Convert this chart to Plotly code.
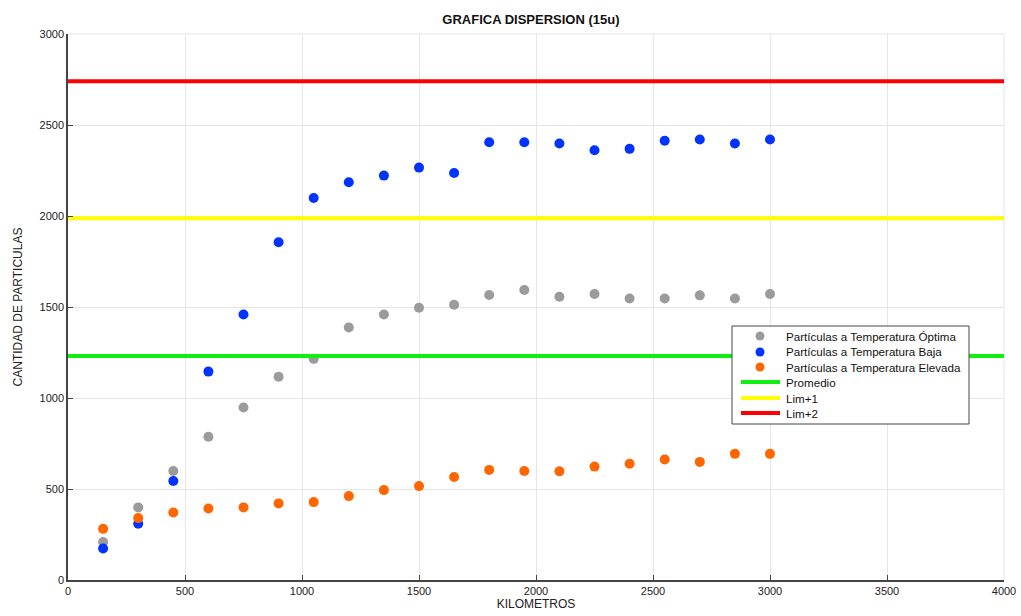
import plotly.graph_objects as go

# Distances (km) where particle counts were sampled
kilometros = [150, 300, 450, 600, 750, 900, 1050, 1200, 1350, 1500,
              1650, 1800, 1950, 2100, 2250, 2400, 2550, 2700, 2850, 3000]

# Particle counts per temperature condition
temp_optima = [209, 399, 599, 787, 948, 1117, 1215, 1387, 1459, 1496,
               1512, 1566, 1593, 1556, 1571, 1547, 1547, 1564, 1547, 1571]
temp_baja = [173, 309, 544, 1145, 1459, 1856, 2099, 2185, 2222, 2266,
             2236, 2405, 2405, 2398, 2361, 2369, 2413, 2420, 2398, 2420]
temp_elevada = [281, 340, 371, 393, 399, 421, 428, 461, 494, 516,
                566, 605, 599, 597, 623, 639, 662, 649, 693, 693]

# Reference levels
promedio = 1231
lim1 = 1988
lim2 = 2740

x_range = [0, 4000]
y_range = [0, 3000]

FONT = "Liberation Sans, Arial, sans-serif"

W, H = 1021, 616
ML, MR, MT, MB = 68, 17, 34, 36
PW, PH = W - ML - MR, H - MT - MB


def px_x(px):
    """Pixel column -> paper x fraction."""
    return (px - ML) / PW


def px_y(py):
    """Pixel row -> paper y fraction."""
    return (H - MB - py) / PH


fig = go.Figure()

point_series = [
    ("Partículas a Temperatura Óptima", temp_optima, "#9b9b9b"),
    ("Partículas a Temperatura Baja", temp_baja, "#0033ff"),
    ("Partículas a Temperatura Elevada", temp_elevada, "#ff6600"),
]
for name, vals, color in point_series:
    fig.add_trace(go.Scatter(
        x=kilometros, y=vals, mode="markers", name=name, showlegend=False,
        marker=dict(color=color, size=10, line=dict(width=0)),
    ))

level_series = [
    ("Promedio", promedio, "#11ee11"),
    ("Lim+1", lim1, "#ffff00"),
    ("Lim+2", lim2, "#ff0000"),
]
for name, val, color in level_series:
    fig.add_trace(go.Scatter(
        x=x_range, y=[val, val], mode="lines", name=name, showlegend=False,
        line=dict(color=color, width=4),
    ))

# Compact legend box drawn with shapes and annotations
shapes = []
annotations = []
box_l, box_r, box_t, box_b = 732, 969, 326, 424
shapes.append(dict(type="rect", xref="paper", yref="paper",
                   x0=px_x(box_l), x1=px_x(box_r), y0=px_y(box_b), y1=px_y(box_t),
                   fillcolor="white", line=dict(color="#444444", width=1), layer="above"))
row_y = [336, 352, 367, 382, 398, 413]
entries = [(n, c, "marker") for n, _, c in point_series] + \
          [(n, c, "line") for n, _, c in level_series]
for (name, color, kind), ry in zip(entries, row_y):
    if kind == "marker":
        shapes.append(dict(type="circle", xref="paper", yref="paper",
                           x0=px_x(755.5), x1=px_x(764.5), y0=px_y(ry + 4.5), y1=px_y(ry - 4.5),
                           fillcolor=color, line=dict(width=0), layer="above"))
    else:
        shapes.append(dict(type="line", xref="paper", yref="paper",
                           x0=px_x(741), x1=px_x(780), y0=px_y(ry), y1=px_y(ry),
                           line=dict(color=color, width=4), layer="above"))
    annotations.append(dict(xref="paper", yref="paper", x=px_x(784), y=px_y(ry),
                            xanchor="left", yanchor="middle", showarrow=False,
                            text=name, font=dict(size=11.6, color="#111111")))

# Light frame on top and right edges, matching the grid color
shapes.append(dict(type="line", xref="paper", yref="paper", x0=0, x1=1, y0=1, y1=1,
                   line=dict(color="#e6e6e6", width=1), layer="below"))
shapes.append(dict(type="line", xref="paper", yref="paper", x0=1, x1=1, y0=0, y1=1,
                   line=dict(color="#e6e6e6", width=1), layer="below"))

fig.update_layout(
    width=W, height=H,
    margin=dict(l=ML, r=MR, t=MT, b=MB),
    paper_bgcolor="white", plot_bgcolor="white",
    font=dict(family=FONT, size=11, color="#222222"),
    title=dict(text="<b>GRAFICA DISPERSION (15u)</b>", x=0.52, xanchor="center",
               y=0.968, yanchor="middle", font=dict(size=13, color="#111111")),
    showlegend=False,
    shapes=shapes,
    annotations=annotations,
)

fig.update_xaxes(
    range=x_range, dtick=500, tick0=0, automargin=False,
    showgrid=True, gridcolor="#e6e6e6", gridwidth=1,
    showline=True, linecolor="#444444", linewidth=1.5,
    ticks="inside", ticklen=5, tickcolor="#444444",
    zeroline=False, mirror=False,
    title=dict(text="KILOMETROS", standoff=2, font=dict(size=12)),
)
fig.update_yaxes(
    range=y_range, dtick=500, tick0=0, automargin=False,
    showgrid=True, gridcolor="#e6e6e6", gridwidth=1,
    showline=True, linecolor="#444444", linewidth=1.5,
    ticks="inside", ticklen=5, tickcolor="#444444",
    zeroline=False, mirror=False,
    title=dict(text="CANTIDAD DE PARTICULAS", standoff=14, font=dict(size=12)),
)

fig.write_html("out.html")
